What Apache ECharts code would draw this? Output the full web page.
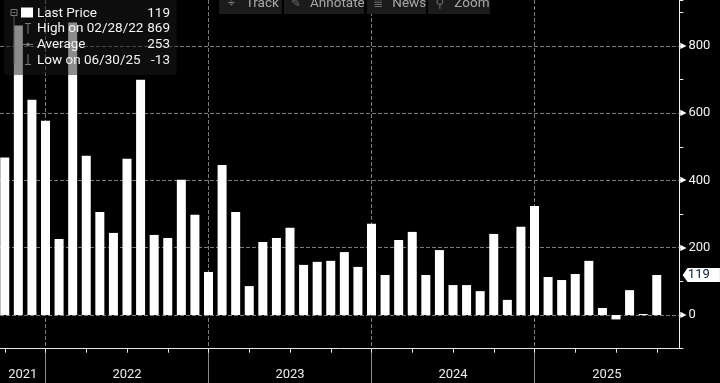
<!DOCTYPE html>
<html>
<head>
<meta charset="utf-8">
<script src="https://cdn.jsdelivr.net/npm/echarts@6/dist/echarts.min.js"></script>
<style>
html,body{margin:0;padding:0;background:#000;}
#chart{width:720px;height:383px;}
</style>
</head>
<body>
<div id="chart"></div>
<script>
// ---- data ----
const months = [
  '2021-09','2021-10','2021-11','2021-12',
  '2022-01','2022-02','2022-03','2022-04','2022-05','2022-06','2022-07','2022-08','2022-09','2022-10','2022-11','2022-12',
  '2023-01','2023-02','2023-03','2023-04','2023-05','2023-06','2023-07','2023-08','2023-09','2023-10','2023-11','2023-12',
  '2024-01','2024-02','2024-03','2024-04','2024-05','2024-06','2024-07','2024-08','2024-09','2024-10','2024-11','2024-12',
  '2025-01','2025-02','2025-03','2025-04','2025-05','2025-06','2025-07','2025-08','2025-09'
];
const values = [
  468, 860, 640, 577,
  226, 869, 473, 306, 244, 464, 699, 238, 229, 402, 298, 128,
  446, 306, 86, 217, 229, 259, 149, 158, 161, 187, 143, 271,
  119, 223, 247, 119, 193, 89, 89, 71, 241, 45, 262, 324,
  113, 104, 122, 161, 21, -13, 74, 3, 119
];
const yTickLabels = [0, 200, 400, 600, 800];
const legendLabels = ['Last Price', 'High on 02/28/22', 'Average', 'Low on 06/30/25'];
const legendValues = ['119', '869', '253', '-13'];
const toolbarLabels = ['Track', 'Annotate', 'News', 'Zoom'];
const toolbarIcons = ['\u2316', '\u270E', '\u2263', '\u26B2'];

// ---- layout constants ----
const W = 720, H = 383;
const GRID_LEFT = 0, GRID_RIGHT = 40.7, GRID_TOP = 0, GRID_BOTTOM = 34.3;
const GRID_H = H - GRID_TOP - GRID_BOTTOM;
const XMIN = -0.35, XMAX = 49.66;
const YMIN = -100, YMAX = 936;
const FONT = 'Roboto, "Liberation Sans", sans-serif';
const GRID_COLOR = '#7a7a7a';

// derived from months
const barData = values.map((v, i) => [i, v]);
const monthNum = months.map(m => +m.slice(5));
const quarterIdx = [];
const yearEndIdx = [];
monthNum.forEach((m, i) => {
  if (m % 3 === 0) quarterIdx.push(i);
  if (m === 12) yearEndIdx.push(i);
});
const years = [...new Set(months.map(m => m.slice(0, 4)))];
const bounds = [XMIN, ...yearEndIdx, XMAX];
const yearMid = years.map((y, k) => (bounds[k] + bounds[k + 1]) / 2);
const lastValue = values[values.length - 1];

const chart = echarts.init(document.getElementById('chart'), null, {renderer: 'canvas'});

// legend + toolbar graphics on an upper layer
const ZL = 1, ZG = 100;
const legendRowY = [13.5, 29, 45, 61];
const greyIcon = '#7a7a7a';
const elements = [
  {type: 'rect', shape: {x: 4, y: -6, width: 172.7, height: 81, r: 4}, style: {fill: 'rgba(26,26,26,0.5)'}},
  {type: 'rect', shape: {x: 11, y: 9.5, width: 6, height: 6}, style: {fill: 'none', stroke: greyIcon, lineWidth: 1}},
  {type: 'line', shape: {x1: 12.5, y1: 12.5, x2: 15.5, y2: 12.5}, style: {stroke: greyIcon, lineWidth: 1}},
  {type: 'line', shape: {x1: 14, y1: 15.5, x2: 14, y2: 64}, style: {stroke: '#555', lineWidth: 1}},
  {type: 'rect', shape: {x: 21, y: 7.5, width: 12, height: 10}, style: {fill: '#ffffff'}},
  {type: 'line', shape: {x1: 25, y1: 23.5, x2: 31, y2: 23.5}, style: {stroke: greyIcon, lineWidth: 1}},
  {type: 'line', shape: {x1: 28, y1: 23.5, x2: 28, y2: 34}, style: {stroke: greyIcon, lineWidth: 1}},
  {type: 'line', shape: {x1: 23, y1: 44.5, x2: 33, y2: 44.5}, style: {stroke: greyIcon, lineWidth: 1}},
  {type: 'circle', shape: {cx: 28, cy: 44.5, r: 1.8}, style: {fill: greyIcon}},
  {type: 'line', shape: {x1: 28, y1: 54, x2: 28, y2: 64.5}, style: {stroke: greyIcon, lineWidth: 1}},
  {type: 'line', shape: {x1: 25, y1: 64.5, x2: 31, y2: 64.5}, style: {stroke: greyIcon, lineWidth: 1}}
];
legendLabels.forEach((t, k) => {
  elements.push({type: 'text', x: 37, y: legendRowY[k],
    style: {text: t, fill: '#f4f4f4', font: '13.5px ' + FONT, verticalAlign: 'middle', align: 'left'}});
  elements.push({type: 'text', x: 170, y: legendRowY[k],
    style: {text: legendValues[k], fill: '#f4f4f4', font: '13.5px ' + FONT, verticalAlign: 'middle', align: 'right'}});
});
const tbBoxes = [[219, 62.7], [284, 80], [367, 59], [428, 62]];
const tbIconX = [231, 296, 378, 440];
const tbTextX = [245.7, 310, 392.3, 454.3];
toolbarLabels.forEach((t, k) => {
  elements.push({type: 'rect', shape: {x: tbBoxes[k][0], y: -8, width: tbBoxes[k][1], height: 22}, style: {fill: '#1b1b1b'}});
  elements.push({type: 'text', x: tbIconX[k], y: 3.5,
    style: {text: toolbarIcons[k], fill: '#6e6e6e', font: '12px "DejaVu Sans"', verticalAlign: 'middle', align: 'center'}});
  elements.push({type: 'text', x: tbTextX[k], y: 3.5,
    style: {text: t, fill: '#a8a8a8', font: '13.5px ' + FONT, verticalAlign: 'middle', align: 'left'}});
});
elements.forEach((e, i) => { e.zlevel = ZL; e.z = ZG; e.z2 = i; e.silent = true; });

const option = {
  animation: false,
  backgroundColor: '#000000',
  grid: {left: GRID_LEFT, right: GRID_RIGHT, top: GRID_TOP, bottom: GRID_BOTTOM, containLabel: false, outerBoundsMode: 'none'},
  xAxis: [
    {
      type: 'value', min: XMIN, max: XMAX, position: 'bottom',
      axisLine: {show: true, onZero: false, lineStyle: {color: '#e8e8e8', width: 1}},
      axisTick: {show: true, customValues: yearEndIdx, length: 35, lineStyle: {color: '#8a8a8a', width: 1}},
      axisLabel: {show: true, customValues: yearMid, margin: 20, color: '#ececec', fontSize: 13, fontFamily: FONT,
        formatter: v => {
          const k = yearMid.findIndex(m => Math.abs(m - v) < 1e-6);
          return k >= 0 ? years[k] : '';
        }},
      splitLine: {show: true, lineStyle: {color: GRID_COLOR, type: 'dashed', width: 1}}
    },
    {
      type: 'value', min: XMIN, max: XMAX, position: 'top', offset: -GRID_H,
      axisLine: {show: false, onZero: false},
      axisTick: {show: true, inside: true, customValues: quarterIdx, length: 4, lineStyle: {color: '#e8e8e8', width: 1}},
      axisLabel: {show: false},
      splitLine: {show: false}
    }
  ],
  yAxis: [
    {
      type: 'value', position: 'right', min: YMIN, max: YMAX, interval: 100,
      axisLine: {show: true, onZero: false, lineStyle: {color: '#f0f0f0', width: 1}},
      axisTick: {show: true, length: 4, lineStyle: {color: '#f0f0f0', width: 1}},
      axisLabel: {
        show: true, margin: 1,
        formatter: v => yTickLabels.includes(v) ? '{t|\u25B6}{v|' + v + '}' : '',
        rich: {
          t: {fontSize: 8, color: '#ffffff', fontFamily: '"DejaVu Sans"', padding: [0, 2, 0, 0]},
          v: {fontSize: 13, color: '#f2f2f2', fontFamily: FONT}
        }
      },
      splitLine: {show: false}
    }
  ],
  series: [
    {
      type: 'bar',
      z: 3,
      data: barData,
      barWidth: 9,
      itemStyle: {color: '#ffffff'},
      xAxisIndex: 0, yAxisIndex: 0,
      markLine: {
        silent: true,
        z: 1,
        symbol: 'none',
        label: {show: false},
        emphasis: {disabled: true},
        lineStyle: {color: GRID_COLOR, type: 'dashed', width: 1},
        data: yTickLabels.map(v => ({yAxis: v}))
      },
      markPoint: {
        silent: true,
        z: 10,
        symbol: 'path://M0,7 L5,0 L38,0 L38,14 L5,14 Z',
        symbolSize: [37.3, 14],
        symbolKeepAspect: false,
        symbolOffset: [22, 0],
        itemStyle: {color: '#ffffff'},
        label: {show: true, position: 'inside', offset: [-2.5, 0], color: '#0b1a33', fontSize: 13, fontFamily: FONT,
          formatter: p => String(p.value)},
        data: [{coord: [XMAX, lastValue], value: lastValue}]
      }
    }
  ],
  graphic: {zlevel: ZL, z: ZG, elements: elements}
};
chart.setOption(option);
</script>
</body>
</html>
